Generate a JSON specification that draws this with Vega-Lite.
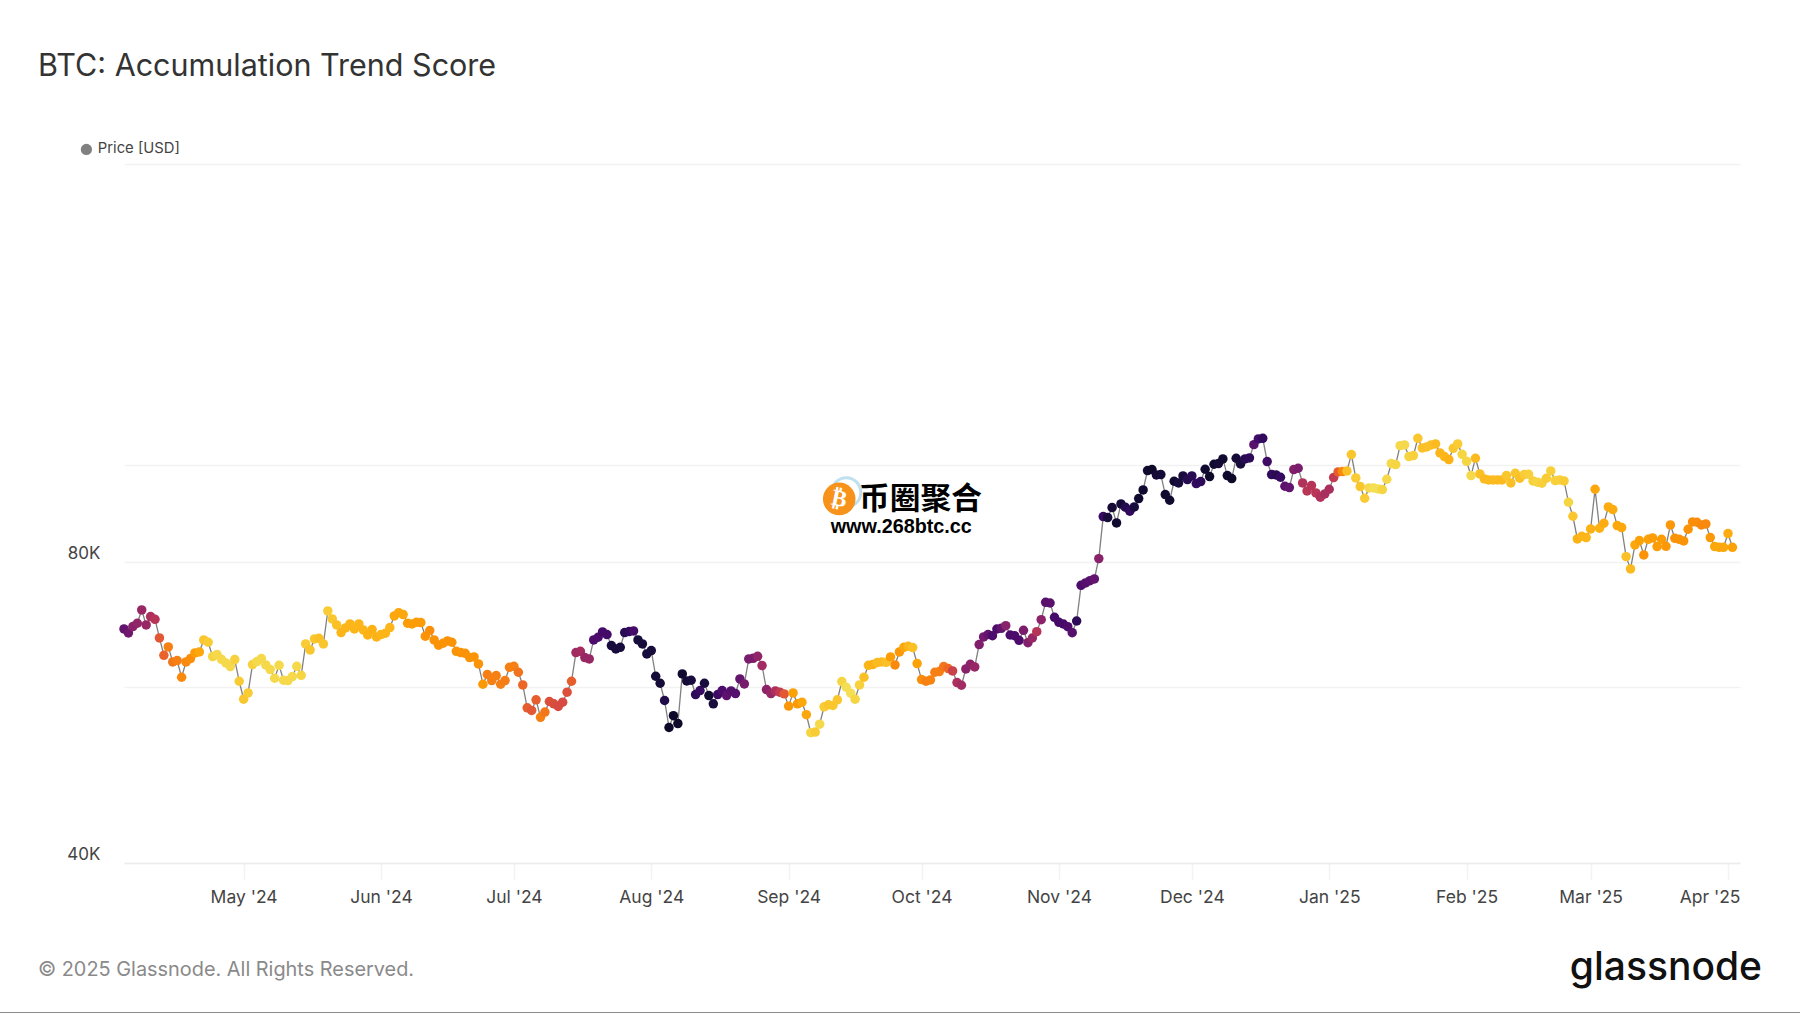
{
"$schema":"https://vega.github.io/schema/vega-lite/v6.json",
"description":"BTC Accumulation Trend Score, price coloured by score",
"autosize":{"type":"none"},
"padding":{"left":124,"top":164,"right":60,"bottom":150},
"width":1616,
"height":699,
"background":"white",
"title":{"text":"BTC: Accumulation Trend Score","anchor":"start","frame":"group","dx":-86,"offset":60,"font":"Inter","fontSize":30.5,"fontWeight":400,"color":"#333333"},
"config":{"view":{"stroke":null},"font":"Inter"},
"datasets":{"btc":[
{"d":"2024-04-04","p":68568,"s":0.27},{"d":"2024-04-05","p":67939,"s":0.3},{"d":"2024-04-06","p":68937,"s":0.36},{"d":"2024-04-07","p":69467,"s":0.38},{"d":"2024-04-08","p":71628,"s":0.4},{"d":"2024-04-09","p":69201,"s":0.4},{"d":"2024-04-10","p":70540,"s":0.45},{"d":"2024-04-11","p":70109,"s":0.47},{"d":"2024-04-12","p":67161,"s":0.6},{"d":"2024-04-13","p":64532,"s":0.63},
{"d":"2024-04-14","p":65784,"s":0.7},{"d":"2024-04-15","p":63549,"s":0.68},{"d":"2024-04-16","p":63745,"s":0.7},{"d":"2024-04-17","p":61346,"s":0.72},{"d":"2024-04-18","p":63549,"s":0.72},{"d":"2024-04-19","p":64039,"s":0.73},{"d":"2024-04-20","p":64880,"s":0.76},{"d":"2024-04-21","p":65029,"s":0.78},{"d":"2024-04-22","p":66852,"s":0.84},{"d":"2024-04-23","p":66494,"s":0.85},
{"d":"2024-04-24","p":64335,"s":0.87},{"d":"2024-04-25","p":64632,"s":0.88},{"d":"2024-04-26","p":63940,"s":0.88},{"d":"2024-04-27","p":63402,"s":0.88},{"d":"2024-04-28","p":62869,"s":0.88},{"d":"2024-04-29","p":63891,"s":0.86},{"d":"2024-04-30","p":60784,"s":0.85},{"d":"2024-05-01","p":58327,"s":0.84},{"d":"2024-05-02","p":59178,"s":0.85},{"d":"2024-05-03","p":63160,"s":0.86},
{"d":"2024-05-04","p":63598,"s":0.88},{"d":"2024-05-05","p":64039,"s":0.88},{"d":"2024-05-06","p":63111,"s":0.88},{"d":"2024-05-07","p":62437,"s":0.88},{"d":"2024-05-08","p":61205,"s":0.88},{"d":"2024-05-09","p":63063,"s":0.88},{"d":"2024-05-10","p":60925,"s":0.88},{"d":"2024-05-11","p":60877,"s":0.88},{"d":"2024-05-12","p":61439,"s":0.88},{"d":"2024-05-13","p":62918,"s":0.88},
{"d":"2024-05-14","p":61628,"s":0.87},{"d":"2024-05-15","p":66239,"s":0.85},{"d":"2024-05-16","p":65330,"s":0.84},{"d":"2024-05-17","p":67007,"s":0.84},{"d":"2024-05-18","p":67110,"s":0.83},{"d":"2024-05-19","p":66239,"s":0.84},{"d":"2024-05-20","p":71464,"s":0.85},{"d":"2024-05-21","p":70163,"s":0.84},{"d":"2024-05-22","p":69201,"s":0.83},{"d":"2024-05-23","p":67991,"s":0.81},
{"d":"2024-05-24","p":68725,"s":0.81},{"d":"2024-05-25","p":69360,"s":0.81},{"d":"2024-05-26","p":68568,"s":0.81},{"d":"2024-05-27","p":69360,"s":0.81},{"d":"2024-05-28","p":68409,"s":0.81},{"d":"2024-05-29","p":67627,"s":0.8},{"d":"2024-05-30","p":68462,"s":0.8},{"d":"2024-05-31","p":67316,"s":0.8},{"d":"2024-06-01","p":67679,"s":0.81},{"d":"2024-06-02","p":67887,"s":0.81},
{"d":"2024-06-03","p":68778,"s":0.81},{"d":"2024-06-04","p":70648,"s":0.78},{"d":"2024-06-05","p":71191,"s":0.78},{"d":"2024-06-06","p":70865,"s":0.78},{"d":"2024-06-07","p":69467,"s":0.76},{"d":"2024-06-08","p":69360,"s":0.76},{"d":"2024-06-09","p":69627,"s":0.76},{"d":"2024-06-10","p":69574,"s":0.76},{"d":"2024-06-11","p":67419,"s":0.74},{"d":"2024-06-12","p":68305,"s":0.73},
{"d":"2024-06-13","p":66852,"s":0.74},{"d":"2024-06-14","p":66036,"s":0.74},{"d":"2024-06-15","p":66341,"s":0.74},{"d":"2024-06-16","p":66699,"s":0.74},{"d":"2024-06-17","p":66494,"s":0.74},{"d":"2024-06-18","p":65129,"s":0.74},{"d":"2024-06-19","p":64930,"s":0.74},{"d":"2024-06-20","p":64830,"s":0.74},{"d":"2024-06-21","p":64186,"s":0.74},{"d":"2024-06-22","p":64285,"s":0.74},
{"d":"2024-06-23","p":63257,"s":0.74},{"d":"2024-06-24","p":60367,"s":0.75},{"d":"2024-06-25","p":61723,"s":0.7},{"d":"2024-06-26","p":60877,"s":0.7},{"d":"2024-06-27","p":61581,"s":0.7},{"d":"2024-06-28","p":60367,"s":0.7},{"d":"2024-06-29","p":60877,"s":0.69},{"d":"2024-06-30","p":62773,"s":0.7},{"d":"2024-07-01","p":62918,"s":0.7},{"d":"2024-07-02","p":62056,"s":0.67},
{"d":"2024-07-03","p":60275,"s":0.64},{"d":"2024-07-04","p":57184,"s":0.62},{"d":"2024-07-05","p":56838,"s":0.6},{"d":"2024-07-06","p":58238,"s":0.62},{"d":"2024-07-07","p":55940,"s":0.7},{"d":"2024-07-08","p":56623,"s":0.68},{"d":"2024-07-09","p":58018,"s":0.58},{"d":"2024-07-10","p":57708,"s":0.57},{"d":"2024-07-11","p":57358,"s":0.56},{"d":"2024-07-12","p":57929,"s":0.56},
{"d":"2024-07-13","p":59269,"s":0.58},{"d":"2024-07-14","p":60784,"s":0.62},{"d":"2024-07-15","p":64930,"s":0.42},{"d":"2024-07-16","p":65129,"s":0.43},{"d":"2024-07-17","p":64186,"s":0.4},{"d":"2024-07-18","p":63989,"s":0.4},{"d":"2024-07-19","p":66852,"s":0.22},{"d":"2024-07-20","p":67264,"s":0.22},{"d":"2024-07-21","p":68095,"s":0.2},{"d":"2024-07-22","p":67679,"s":0.2},
{"d":"2024-07-23","p":65985,"s":0.1},{"d":"2024-07-24","p":65480,"s":0.1},{"d":"2024-07-25","p":65732,"s":0.1},{"d":"2024-07-26","p":67991,"s":0.14},{"d":"2024-07-27","p":68147,"s":0.16},{"d":"2024-07-28","p":68253,"s":0.2},{"d":"2024-07-29","p":66852,"s":0.1},{"d":"2024-07-30","p":66239,"s":0.1},{"d":"2024-07-31","p":64731,"s":0.1},{"d":"2024-08-01","p":65230,"s":0.1},
{"d":"2024-08-02","p":61487,"s":0.09},{"d":"2024-08-03","p":60506,"s":0.09},{"d":"2024-08-04","p":58150,"s":0.12},{"d":"2024-08-05","p":54647,"s":0.07},{"d":"2024-08-06","p":56153,"s":0.07},{"d":"2024-08-07","p":55143,"s":0.07},{"d":"2024-08-08","p":61818,"s":0.08},{"d":"2024-08-09","p":60831,"s":0.09},{"d":"2024-08-10","p":60925,"s":0.1},{"d":"2024-08-11","p":58954,"s":0.15},
{"d":"2024-08-12","p":59496,"s":0.17},{"d":"2024-08-13","p":60506,"s":0.1},{"d":"2024-08-14","p":58819,"s":0.08},{"d":"2024-08-15","p":57708,"s":0.1},{"d":"2024-08-16","p":58954,"s":0.18},{"d":"2024-08-17","p":59496,"s":0.22},{"d":"2024-08-18","p":58819,"s":0.26},{"d":"2024-08-19","p":59451,"s":0.24},{"d":"2024-08-20","p":59089,"s":0.24},{"d":"2024-08-21","p":61111,"s":0.28},
{"d":"2024-08-22","p":60414,"s":0.32},{"d":"2024-08-23","p":63989,"s":0.33},{"d":"2024-08-24","p":64088,"s":0.33},{"d":"2024-08-25","p":64384,"s":0.38},{"d":"2024-08-26","p":63015,"s":0.42},{"d":"2024-08-27","p":59633,"s":0.37},{"d":"2024-08-28","p":59089,"s":0.4},{"d":"2024-08-29","p":59451,"s":0.45},{"d":"2024-08-30","p":59269,"s":0.5},{"d":"2024-08-31","p":59044,"s":0.6},
{"d":"2024-09-01","p":57402,"s":0.75},{"d":"2024-09-02","p":59178,"s":0.77},{"d":"2024-09-03","p":57708,"s":0.75},{"d":"2024-09-04","p":57929,"s":0.78},{"d":"2024-09-05","p":56281,"s":0.78},{"d":"2024-09-06","p":53993,"s":0.87},{"d":"2024-09-07","p":54075,"s":0.85},{"d":"2024-09-08","p":55060,"s":0.88},{"d":"2024-09-09","p":57315,"s":0.85},{"d":"2024-09-10","p":57577,"s":0.84},
{"d":"2024-09-11","p":57490,"s":0.84},{"d":"2024-09-12","p":58238,"s":0.84},{"d":"2024-09-13","p":60738,"s":0.87},{"d":"2024-09-14","p":59953,"s":0.89},{"d":"2024-09-15","p":59134,"s":0.89},{"d":"2024-09-16","p":58327,"s":0.87},{"d":"2024-09-17","p":60275,"s":0.86},{"d":"2024-09-18","p":61346,"s":0.83},{"d":"2024-09-19","p":63063,"s":0.81},{"d":"2024-09-20","p":63160,"s":0.8},
{"d":"2024-09-21","p":63452,"s":0.82},{"d":"2024-09-22","p":63549,"s":0.82},{"d":"2024-09-23","p":63500,"s":0.83},{"d":"2024-09-24","p":64285,"s":0.76},{"d":"2024-09-25","p":63111,"s":0.72},{"d":"2024-09-26","p":65029,"s":0.75},{"d":"2024-09-27","p":65732,"s":0.78},{"d":"2024-09-28","p":65884,"s":0.81},{"d":"2024-09-29","p":65682,"s":0.83},{"d":"2024-09-30","p":63305,"s":0.77},
{"d":"2024-10-01","p":61018,"s":0.73},{"d":"2024-10-02","p":60784,"s":0.7},{"d":"2024-10-03","p":60971,"s":0.71},{"d":"2024-10-04","p":62056,"s":0.7},{"d":"2024-10-05","p":62150,"s":0.7},{"d":"2024-10-06","p":62869,"s":0.68},{"d":"2024-10-07","p":62580,"s":0.65},{"d":"2024-10-08","p":62246,"s":0.53},{"d":"2024-10-09","p":60598,"s":0.45},{"d":"2024-10-10","p":60229,"s":0.42},
{"d":"2024-10-11","p":62533,"s":0.36},{"d":"2024-10-12","p":63209,"s":0.37},{"d":"2024-10-13","p":62821,"s":0.4},{"d":"2024-10-14","p":66138,"s":0.34},{"d":"2024-10-15","p":67316,"s":0.31},{"d":"2024-10-16","p":67679,"s":0.27},{"d":"2024-10-17","p":67510,"s":0.22},{"d":"2024-10-18","p":68555,"s":0.22},{"d":"2024-10-19","p":68661,"s":0.27},{"d":"2024-10-20","p":69084,"s":0.36},
{"d":"2024-10-21","p":67614,"s":0.22},{"d":"2024-10-22","p":67510,"s":0.22},{"d":"2024-10-23","p":66787,"s":0.22},{"d":"2024-10-24","p":68345,"s":0.33},{"d":"2024-10-25","p":66429,"s":0.35},{"d":"2024-10-26","p":67148,"s":0.4},{"d":"2024-10-27","p":68135,"s":0.47},{"d":"2024-10-28","p":70046,"s":0.37},{"d":"2024-10-29","p":72901,"s":0.25},{"d":"2024-10-30","p":72789,"s":0.25},
{"d":"2024-10-31","p":70424,"s":0.2},{"d":"2024-11-01","p":69616,"s":0.2},{"d":"2024-11-02","p":69350,"s":0.2},{"d":"2024-11-03","p":68925,"s":0.22},{"d":"2024-11-04","p":67979,"s":0.24},{"d":"2024-11-05","p":69831,"s":0.15},{"d":"2024-11-06","p":75813,"s":0.22},{"d":"2024-11-07","p":76221,"s":0.24},{"d":"2024-11-08","p":76632,"s":0.25},{"d":"2024-11-09","p":76927,"s":0.27},
{"d":"2024-11-10","p":80617,"s":0.36},{"d":"2024-11-11","p":88807,"s":0.17},{"d":"2024-11-12","p":88603,"s":0.1},{"d":"2024-11-13","p":90668,"s":0.09},{"d":"2024-11-14","p":87521,"s":0.08},{"d":"2024-11-15","p":91437,"s":0.09},{"d":"2024-11-16","p":90737,"s":0.13},{"d":"2024-11-17","p":89905,"s":0.16},{"d":"2024-11-18","p":90808,"s":0.1},{"d":"2024-11-19","p":92567,"s":0.08},
{"d":"2024-11-20","p":94432,"s":0.08},{"d":"2024-11-21","p":98730,"s":0.08},{"d":"2024-11-22","p":98958,"s":0.07},{"d":"2024-11-23","p":97751,"s":0.09},{"d":"2024-11-24","p":97825,"s":0.09},{"d":"2024-11-25","p":93423,"s":0.08},{"d":"2024-11-26","p":92212,"s":0.08},{"d":"2024-11-27","p":96335,"s":0.08},{"d":"2024-11-28","p":95967,"s":0.1},{"d":"2024-11-29","p":97526,"s":0.1},
{"d":"2024-11-30","p":96706,"s":0.13},{"d":"2024-12-01","p":97526,"s":0.14},{"d":"2024-12-02","p":95819,"s":0.16},{"d":"2024-12-03","p":96262,"s":0.15},{"d":"2024-12-04","p":99033,"s":0.08},{"d":"2024-12-05","p":97377,"s":0.07},{"d":"2024-12-06","p":100179,"s":0.08},{"d":"2024-12-07","p":100333,"s":0.09},{"d":"2024-12-08","p":101415,"s":0.08},{"d":"2024-12-09","p":97600,"s":0.08},
{"d":"2024-12-10","p":96929,"s":0.07},{"d":"2024-12-11","p":101572,"s":0.09},{"d":"2024-12-12","p":100255,"s":0.1},{"d":"2024-12-13","p":101415,"s":0.14},{"d":"2024-12-14","p":101648,"s":0.15},{"d":"2024-12-15","p":104813,"s":0.25},{"d":"2024-12-16","p":106186,"s":0.2},{"d":"2024-12-17","p":106349,"s":0.16},{"d":"2024-12-18","p":100795,"s":0.19},{"d":"2024-12-19","p":97825,"s":0.16},
{"d":"2024-12-20","p":97751,"s":0.14},{"d":"2024-12-21","p":97227,"s":0.17},{"d":"2024-12-22","p":95233,"s":0.26},{"d":"2024-12-23","p":94942,"s":0.27},{"d":"2024-12-24","p":98958,"s":0.35},{"d":"2024-12-25","p":99261,"s":0.33},{"d":"2024-12-26","p":95967,"s":0.46},{"d":"2024-12-27","p":94216,"s":0.48},{"d":"2024-12-28","p":95380,"s":0.47},{"d":"2024-12-29","p":93782,"s":0.48},
{"d":"2024-12-30","p":92851,"s":0.46},{"d":"2024-12-31","p":93567,"s":0.44},{"d":"2025-01-01","p":94578,"s":0.44},{"d":"2025-01-02","p":97152,"s":0.5},{"d":"2025-01-03","p":98427,"s":0.62},{"d":"2025-01-04","p":98502,"s":0.72},{"d":"2025-01-05","p":98654,"s":0.83},{"d":"2025-01-06","p":102431,"s":0.84},{"d":"2025-01-07","p":97078,"s":0.85},{"d":"2025-01-08","p":95159,"s":0.84},
{"d":"2025-01-09","p":92638,"s":0.85},{"d":"2025-01-10","p":94869,"s":0.88},{"d":"2025-01-11","p":94869,"s":0.89},{"d":"2025-01-12","p":94650,"s":0.89},{"d":"2025-01-13","p":94504,"s":0.87},{"d":"2025-01-14","p":96780,"s":0.88},{"d":"2025-01-15","p":100333,"s":0.88},{"d":"2025-01-16","p":100101,"s":0.87},{"d":"2025-01-17","p":104572,"s":0.88},{"d":"2025-01-18","p":104733,"s":0.88},
{"d":"2025-01-19","p":101961,"s":0.87},{"d":"2025-01-20","p":102196,"s":0.86},{"d":"2025-01-21","p":106349,"s":0.84},{"d":"2025-01-22","p":104012,"s":0.83},{"d":"2025-01-23","p":104253,"s":0.83},{"d":"2025-01-24","p":104733,"s":0.83},{"d":"2025-01-25","p":104973,"s":0.82},{"d":"2025-01-26","p":102825,"s":0.81},{"d":"2025-01-27","p":101961,"s":0.81},{"d":"2025-01-28","p":101260,"s":0.8},
{"d":"2025-01-29","p":103933,"s":0.84},{"d":"2025-01-30","p":104973,"s":0.85},{"d":"2025-01-31","p":102509,"s":0.87},{"d":"2025-02-01","p":100872,"s":0.87},{"d":"2025-02-02","p":97600,"s":0.88},{"d":"2025-02-03","p":101572,"s":0.82},{"d":"2025-02-04","p":97975,"s":0.83},{"d":"2025-02-05","p":96855,"s":0.82},{"d":"2025-02-06","p":96631,"s":0.82},{"d":"2025-02-07","p":96631,"s":0.82},
{"d":"2025-02-08","p":96631,"s":0.82},{"d":"2025-02-09","p":96631,"s":0.82},{"d":"2025-02-10","p":97600,"s":0.84},{"d":"2025-02-11","p":95967,"s":0.83},{"d":"2025-02-12","p":98126,"s":0.84},{"d":"2025-02-13","p":97003,"s":0.83},{"d":"2025-02-14","p":97825,"s":0.85},{"d":"2025-02-15","p":97900,"s":0.86},{"d":"2025-02-16","p":96410,"s":0.86},{"d":"2025-02-17","p":96114,"s":0.87},
{"d":"2025-02-18","p":95893,"s":0.86},{"d":"2025-02-19","p":97003,"s":0.85},{"d":"2025-02-20","p":98654,"s":0.86},{"d":"2025-02-21","p":96483,"s":0.86},{"d":"2025-02-22","p":96631,"s":0.86},{"d":"2025-02-23","p":96410,"s":0.85},{"d":"2025-02-24","p":91788,"s":0.87},{"d":"2025-02-25","p":88875,"s":0.84},{"d":"2025-02-26","p":84353,"s":0.8},{"d":"2025-02-27","p":84874,"s":0.81},
{"d":"2025-02-28","p":84613,"s":0.81},{"d":"2025-03-01","p":86320,"s":0.8},{"d":"2025-03-02","p":94578,"s":0.78},{"d":"2025-03-03","p":86452,"s":0.8},{"d":"2025-03-04","p":87454,"s":0.79},{"d":"2025-03-05","p":90808,"s":0.79},{"d":"2025-03-06","p":90251,"s":0.79},{"d":"2025-03-07","p":86985,"s":0.78},{"d":"2025-03-08","p":86585,"s":0.78},{"d":"2025-03-09","p":80989,"s":0.83},
{"d":"2025-03-10","p":78720,"s":0.82},{"d":"2025-03-11","p":83195,"s":0.78},{"d":"2025-03-12","p":84031,"s":0.77},{"d":"2025-03-13","p":81300,"s":0.74},{"d":"2025-03-14","p":84289,"s":0.77},{"d":"2025-03-15","p":84548,"s":0.76},{"d":"2025-03-16","p":82876,"s":0.76},{"d":"2025-03-17","p":84289,"s":0.76},{"d":"2025-03-18","p":82940,"s":0.75},{"d":"2025-03-19","p":87119,"s":0.75},
{"d":"2025-03-20","p":84483,"s":0.74},{"d":"2025-03-21","p":84289,"s":0.74},{"d":"2025-03-22","p":83967,"s":0.74},{"d":"2025-03-23","p":86254,"s":0.74},{"d":"2025-03-24","p":87723,"s":0.73},{"d":"2025-03-25","p":87655,"s":0.73},{"d":"2025-03-26","p":87119,"s":0.72},{"d":"2025-03-27","p":87320,"s":0.72},{"d":"2025-03-28","p":84613,"s":0.75},{"d":"2025-03-29","p":82876,"s":0.78},
{"d":"2025-03-30","p":82749,"s":0.78},{"d":"2025-03-31","p":82749,"s":0.78},{"d":"2025-04-01","p":85397,"s":0.79},{"d":"2025-04-02","p":82749,"s":0.77}
]},
"data":{"name":"btc"},
"encoding":{
"x":{"field":"d","type":"temporal","title":null,"scale":{"type":"utc","domain":[{"year":2024,"month":4,"date":4,"utc":true},{"year":2025,"month":4,"date":3,"hours":17,"utc":true}]},
"axis":{"values":[{"year":2024,"month":5,"date":1,"utc":true},{"year":2024,"month":6,"date":1,"utc":true},{"year":2024,"month":7,"date":1,"utc":true},{"year":2024,"month":8,"date":1,"utc":true},{"year":2024,"month":9,"date":1,"utc":true},{"year":2024,"month":10,"date":1,"utc":true},{"year":2024,"month":11,"date":1,"utc":true},{"year":2024,"month":12,"date":1,"utc":true},{"year":2025,"month":1,"date":1,"utc":true},{"year":2025,"month":2,"date":1,"utc":true},{"year":2025,"month":3,"date":1,"utc":true},{"year":2025,"month":4,"date":1,"utc":true}],
"format":"%b '%y","grid":false,"domainColor":"#ececec","domainWidth":1.5,"tickColor":"#f3f3f3","tickWidth":1.5,"tickSize":17,"labelFont":"Inter","labelFontSize":17.5,"labelColor":"#444444","labelPadding":8,"labelFlush":20,"labelFlushOffset":12,"labelOverlap":false,"labelBound":false}},
"y":{"field":"p","type":"quantitative","title":null,"scale":{"type":"log","domain":[40000,200000],"nice":false},
"axis":{"values":[40000,60000,80000,100000,200000],"labelExpr":"datum.value == 40000 ? '40K' : datum.value == 80000 ? '80K' : ''","grid":true,"gridColor":"#f2f2f2","gridWidth":1.5,"domain":false,"ticks":false,"labelFont":"Inter","labelFontSize":17,"labelColor":"#444444","labelPadding":24,"labelOffset":-8.5}}
},
"layer":[
{"mark":{"type":"line","strokeWidth":1.3,"interpolate":"linear"},
"encoding":{"color":{"datum":"Price [USD]","type":"nominal","scale":{"range":["#808080"]},
"legend":{"orient":"none","legendX":-45,"legendY":-22,"title":null,"symbolType":"circle","symbolFillColor":"#808080","symbolStrokeColor":"#808080","symbolSize":95,"labelFont":"Inter","labelFontSize":14.8,"labelColor":"#444444","labelOffset":4}}}},
{"mark":{"type":"circle","size":90,"opacity":1},
"encoding":{"color":{"field":"s","type":"quantitative","scale":{"scheme":"inferno","domain":[0,0.97]},"legend":null}}},
{"data":{"values":[{"d":"2024-03-15T14:00:00Z","p":31230,"note":"© 2025 Glassnode. All Rights Reserved."}]},"mark":{"type":"text","align":"left","baseline":"middle","font":"Inter","fontSize":19.9,"color":"#8a8a8a"},
"encoding":{"text":{"field":"note"}}},
{"data":{"values":[{"d":"2025-04-08T16:00:00Z","p":31400,"note":"glassnode"}]},"mark":{"type":"text","align":"right","baseline":"middle","font":"Inter","fontWeight":500,"fontSize":39,"color":"#111111"},
"encoding":{"text":{"field":"note"}}},
{"data":{"values":[{"d":"2024-09-14T00:00:00Z","p":93900}]},"mark":{"type":"point","filled":false,"size":850,"stroke":"#bfe0ee","strokeWidth":3,"opacity":1}},
{"data":{"values":[{"d":"2024-09-12T10:00:00Z","p":92500}]},"mark":{"type":"circle","size":1060,"opacity":1,"color":"#f7931a"}},
{"data":{"values":[{"d":"2024-09-12T10:00:00Z","p":92500,"note":"₿"}]},"mark":{"type":"text","align":"center","baseline":"middle","font":"DejaVu Sans","fontWeight":"bold","fontSize":23,"color":"#ffffff","angle":12},
"encoding":{"text":{"field":"note"}}},
{"data":{"values":[{"d":"2024-09-30T18:00:00Z","p":92270,"note":"币圈聚合"}]},"mark":{"type":"text","align":"center","baseline":"middle","font":"Noto Sans CJK SC","fontWeight":"bold","fontSize":30.7,"color":"#000000"},
"encoding":{"text":{"field":"note"}}},
{"data":{"values":[{"d":"2024-09-26T10:00:00Z","p":86800,"note":"www.268btc.cc"}]},"mark":{"type":"text","align":"center","baseline":"middle","font":"Liberation Sans","fontWeight":"bold","fontSize":19.8,"color":"#000000"},
"encoding":{"text":{"field":"note"}}},
{"data":{"values":[{"d":"2024-03-07T00:00:00Z","d2":"2025-04-18T00:00:00Z","p":28300}]},"mark":{"type":"rule","color":"#666666","strokeWidth":2},
"encoding":{"x2":{"field":"d2"}}}
],
"resolve":{"scale":{"color":"independent"}}
}
